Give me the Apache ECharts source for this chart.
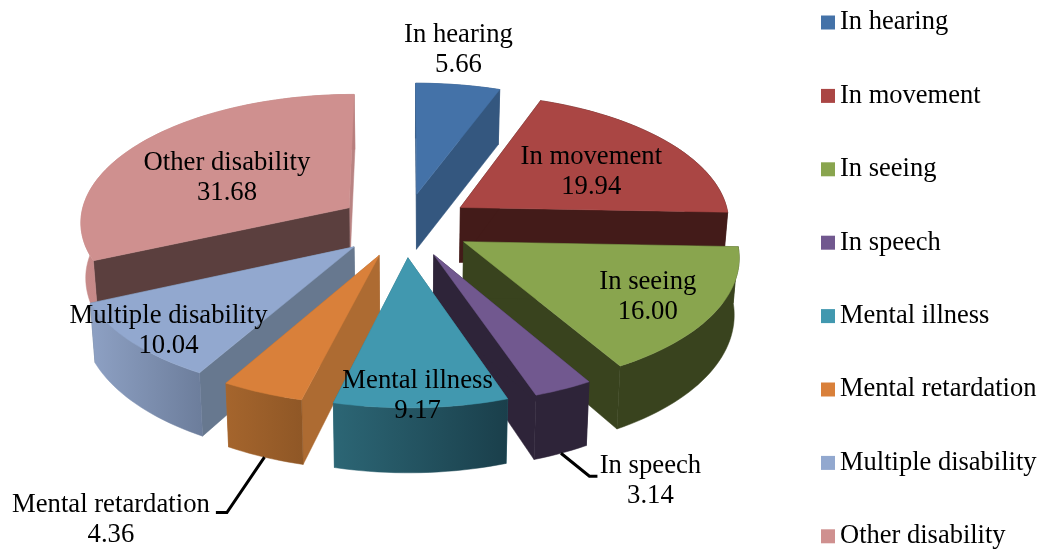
<!DOCTYPE html>
<html>
<head>
<meta charset="utf-8">
<title>Disability types</title>
<script src="https://cdn.jsdelivr.net/npm/echarts@6/dist/echarts.min.js"></script>
<style>
  html, body { margin: 0; padding: 0; background: #fff; }
  #chart { width: 1041px; height: 550px; }
</style>
</head>
<body>
<div id="chart"></div>
<script>
const categories = ['In hearing', 'In movement', 'In seeing', 'In speech', 'Mental illness', 'Mental retardation', 'Multiple disability', 'Other disability'];
const shares = [5.66, 19.94, 16.00, 3.14, 9.17, 4.36, 10.04, 31.68];

const faceColors = ['#4472a8', '#aa4644', '#89a54e', '#71588f', '#4198af', '#d9803a', '#92a8cf', '#cf908f'];
const cutStart = ['#34577f', '#431b19', '#39431e', '#2e2439', '#2b6a7a', '#ad6b32', '#67788f', '#5b3f3e'];
const cutEnd = ['#34577f', '#431b19', '#39431e', '#2e2439', '#2b6a7a', '#ad6b32', '#67788f', '#b98382'];
const wallLeft = ['#34577f', '#431b19', '#39431e', '#2e2439', '#2c6675', '#a5652d', '#8ea1c4', '#c78a89'];
const wallRight = ['#34577f', '#431b19', '#39431e', '#2e2439', '#1a3f4b', '#8f5726', '#6c7d9b', '#b87e7d'];

// label shift from the middle of each slice, px
const labelShift = [[16, -76], [4, 5], [37, 13], [142, 149], [2, 52], [-201, 185], [-56, 29], [6, 10]];
// elbow of the leader line, relative to label centre (only for the two outside labels)
const leaderElbow = { 3: [[-61, -5], [-53, -5]], 5: [[116, -7], [105, -7]] };

// pie projection
const cx = 405, cy = 225, rx = 270, ry = 128, persp = 0.1, explode = 0.25, dropShrink = 0.985;
const total = shares.reduce((a, b) => a + b, 0);
const font = '"Liberation Serif", "Times New Roman", serif';

function wallHeight(z) {
  return 55 + 8 * Math.max(0, -z);
}

function project(x, z, drop) {
  const s = 1 / (1 + persp * z);
  const px = x * rx * s * (drop ? dropShrink : 1);
  return [cx + px, cy - z * ry * s + (drop ? wallHeight(z) : 0)];
}

function sliceAngles(i) {
  let before = 0;
  for (let k = 0; k < i; k++) before += shares[k];
  const a0 = before / total * Math.PI * 2;
  const a1 = (before + shares[i]) / total * Math.PI * 2;
  return { a0, a1, mid: (a0 + a1) / 2 };
}

function slicePoint(i, r, angle, drop) {
  const { mid } = sliceAngles(i);
  const x = explode * Math.sin(mid) + r * Math.sin(angle);
  const z = explode * Math.cos(mid) + r * Math.cos(angle);
  return project(x, z, drop);
}

function renderSlice(i) {
  const { a0, a1 } = sliceAngles(i);
  const steps = Math.ceil((a1 - a0) / 0.03);
  const top = [];
  const bottom = [];
  for (let k = 0; k <= steps; k++) {
    const a = a0 + (a1 - a0) * k / steps;
    top.push(slicePoint(i, 1, a, false));
    bottom.push(slicePoint(i, 1, a, true));
  }
  const tip = slicePoint(i, 0, a0, false);
  const tipLow = slicePoint(i, 0, a0, true);
  const wallFill = new echarts.graphic.LinearGradient(0, 0, 1, 0, [
    { offset: 0, color: wallLeft[i] },
    { offset: 1, color: wallRight[i] }
  ]);
  const poly = (points, fill) => ({
    type: 'polygon',
    shape: { points },
    style: { fill, stroke: fill, lineWidth: 0.5 }
  });
  return {
    type: 'group',
    children: [
      poly([tip, top[steps], bottom[steps], tipLow], cutEnd[i]),
      poly([tip, top[0], bottom[0], tipLow], cutStart[i]),
      poly(top.concat(bottom.slice().reverse()), wallFill),
      poly([tip].concat(top), faceColors[i])
    ]
  };
}

function renderLabel(params, api) {
  const i = api.value(0);
  const { mid } = sliceAngles(i);
  const anchor = slicePoint(i, 0.6, mid, false);
  const lx = anchor[0] + labelShift[i][0];
  const ly = anchor[1] + labelShift[i][1];
  const children = [];
  if (leaderElbow[i]) {
    const points = [slicePoint(i, 1, mid, true)];
    leaderElbow[i].forEach(e => points.push([lx + e[0], ly + e[1]]));
    children.push({
      type: 'polyline',
      shape: { points },
      style: { stroke: '#000', lineWidth: 3, fill: null }
    });
  }
  children.push({
    type: 'text',
    x: lx,
    y: ly,
    style: {
      text: categories[i] + '\n' + shares[i].toFixed(2),
      fontFamily: font,
      fontSize: 26.7,
      lineHeight: 30,
      align: 'center',
      verticalAlign: 'middle',
      fill: '#000'
    }
  });
  return { type: 'group', children };
}

const series = categories.map((name, i) => ({
  type: 'custom',
  name,
  coordinateSystem: 'none',
  z: 2 + Math.round((1 - Math.cos(sliceAngles(i).mid)) * 10),
  itemStyle: { color: faceColors[i] },
  data: [[shares[i]]],
  renderItem: () => renderSlice(i),
  silent: true
}));

series.push({
  type: 'custom',
  name: 'labels',
  coordinateSystem: 'none',
  z: 40,
  data: categories.map((c, i) => [i]),
  renderItem: renderLabel,
  silent: true
});

const chart = echarts.init(document.getElementById('chart'), null, { renderer: 'canvas' });
chart.setOption({
  animation: false,
  backgroundColor: '#fff',
  legend: {
    data: categories,
    orient: 'vertical',
    left: 821,
    top: 9,
    height: 600,
    padding: 0,
    icon: 'rect',
    itemWidth: 14,
    itemHeight: 14,
    itemGap: 46.4,
    selectedMode: false,
    textStyle: { fontFamily: font, fontSize: 26.5, lineHeight: 20, color: '#000' }
  },
  series
});
</script>
</body>
</html>
